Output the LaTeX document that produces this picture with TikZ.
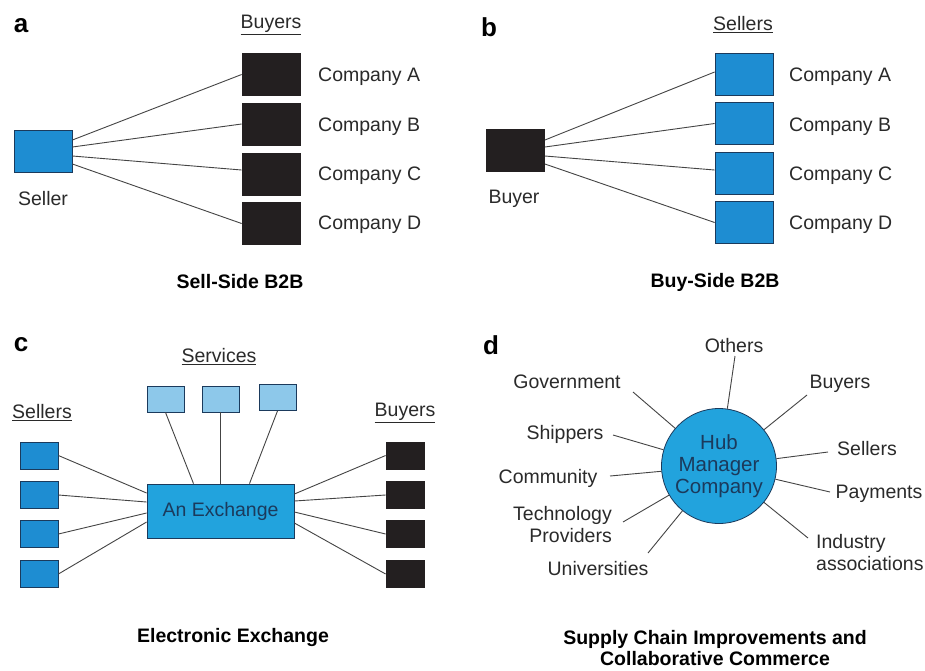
\documentclass[tikz,border=0pt]{standalone}
\usepackage{fontspec}
\setmainfont{Liberation Sans}
\definecolor{txt}{HTML}{2A2A2A}
\definecolor{blueA}{HTML}{1E8DD2}
\definecolor{blueL}{HTML}{8DC8EA}
\definecolor{blueX}{HTML}{22A3DD}
\definecolor{navy}{HTML}{1B3A5C}
\definecolor{blk}{HTML}{231F20}
\definecolor{edge}{HTML}{444444}
\begin{document}
\begin{tikzpicture}[x=1pt,y=-1pt,
  every node/.style={font=\fontsize{19.5}{22}\selectfont, text=txt, inner sep=0pt},
  lbl/.style={font=\fontsize{26}{28}\selectfont\bfseries, text=black},
  ttl/.style={font=\fontsize{19.5}{22}\selectfont\bfseries, text=black, align=center},
  bigbox/.style={draw=navy, line width=0.8pt, minimum width=58pt, minimum height=42pt},
  blackbig/.style={bigbox, fill=blk, draw=blk},
  bluebig/.style={bigbox, fill=blueA},
  smallbox/.style={draw=navy, line width=0.8pt, minimum width=38pt, minimum height=27pt},
  blacksmall/.style={smallbox, fill=blk, draw=blk},
  bluesmall/.style={smallbox, fill=blueA},
  servbox/.style={draw=navy, line width=0.8pt, minimum width=37pt, minimum height=26pt, fill=blueL},
  link/.style={draw=edge, line width=0.9pt}
]
\useasboundingbox (0,0) rectangle (925,670);
\fill[white] (0,0) rectangle (925,670);

% ---------------- Panel a ----------------
\node[lbl] (la) at (21,26) {a};
\node (ha) at (271,25) {\underline{Buyers}};
\node[bluebig] (sel) at (43,151) {};
\node (selt) at (43,199) {Seller};
\node[blackbig] (aA) at (271,74.5) {};
\node[blackbig] (aB) at (271,124) {};
\node[blackbig] (aC) at (271,174) {};
\node[blackbig] (aD) at (271,223.5) {};
\node[anchor=west] (tA) at (318,77) {Company A};
\node[anchor=west] (tB) at (318,127) {Company B};
\node[anchor=west] (tC) at (318,176) {Company C};
\node[anchor=west] (tD) at (318,225) {Company D};
\draw[link] ([yshift=11]sel.east) -- (aA.west);
\draw[link] ([yshift=4]sel.east) -- (aB.west);
\draw[link] ([yshift=-5]sel.east) -- ([yshift=4]aC.west);
\draw[link] ([yshift=-13]sel.east) -- (aD.west);
\node[ttl] (ta) at (240,282) {Sell-Side B2B};

% ---------------- Panel b ----------------
\node[lbl] (lb) at (489,27) {b};
\node (hb) at (743,25) {\underline{Sellers}};
\node[blackbig] (buy) at (515.5,150) {};
\node (buyt) at (514,199) {Buyer};
\node[bluebig] (bA) at (744,74) {};
\node[bluebig] (bB) at (744,123.5) {};
\node[bluebig] (bC) at (744,173) {};
\node[bluebig] (bD) at (744,222.5) {};
\node[anchor=west] (uA) at (789,77) {Company A};
\node[anchor=west] (uB) at (789,127) {Company B};
\node[anchor=west] (uC) at (789,176) {Company C};
\node[anchor=west] (uD) at (789,225) {Company D};
\draw[link] ([yshift=10]buy.east) -- ([yshift=2]bA.west);
\draw[link] ([yshift=3]buy.east) -- (bB.west);
\draw[link] ([yshift=-6]buy.east) -- ([yshift=3]bC.west);
\draw[link] ([yshift=-14]buy.east) -- (bD.west);
\node[ttl] (tb) at (715,282) {Buy-Side B2B};

% ---------------- Panel c ----------------
\node[lbl] (lc) at (21,345) {c};
\node (hs) at (219,357) {\underline{Services}};
\node (hsel) at (42,413) {\underline{Sellers}};
\node (hbuy) at (405,413) {\underline{Buyers}};
\node[servbox] (s1) at (165.5,399) {};
\node[servbox] (s2) at (220.5,399) {};
\node[servbox] (s3) at (277.5,397.5) {};
\node[draw=navy, line width=0.8pt, fill=blueX, minimum width=147pt, minimum height=54pt,
      text=navy] (ex) at (220.5,511) {An Exchange};
\node[bluesmall] (c1) at (39,455.5) {};
\node[bluesmall] (c2) at (39,495) {};
\node[bluesmall] (c3) at (39,534) {};
\node[bluesmall] (c4) at (39,574) {};
\node[blacksmall] (d1) at (405,455.5) {};
\node[blacksmall] (d2) at (405,495) {};
\node[blacksmall] (d3) at (405,534) {};
\node[blacksmall] (d4) at (405,574) {};
\draw[link] (s1.south) -- ([xshift=-27]ex.north);
\draw[link] (s2.south) -- (ex.north);
\draw[link] (s3.south) -- ([xshift=29]ex.north);
\draw[link] (c1.east) -- ([yshift=18]ex.west);
\draw[link] (c2.east) -- ([yshift=9]ex.west);
\draw[link] (c3.east) -- ([yshift=-2]ex.west);
\draw[link] (c4.east) -- ([yshift=-11]ex.west);
\draw[link] (d1.west) -- ([yshift=17]ex.east);
\draw[link] (d2.west) -- ([yshift=10]ex.east);
\draw[link] (d3.west) -- ([yshift=-1]ex.east);
\draw[link] (d4.west) -- ([yshift=-12]ex.east);
\node[ttl] (tc) at (233,637) {Electronic Exchange};

% ---------------- Panel d ----------------
\node[lbl] (ld) at (491,345) {d};
\node[circle, draw=navy, line width=0.8pt, fill=blueX, minimum size=115pt,
      text=navy, align=center, font=\fontsize{20.5}{22}\selectfont] (hub) at (719,466) {Hub\\Manager\\Company};
\node (nOth) at (734,346) {Others};
\node (nBuy) at (840,384) {Buyers};
\node (nSel) at (867,449) {Sellers};
\node (nPay) at (879,494) {Payments};
\node[anchor=west, align=left] (nInd) at (816,553) {Industry\\associations};
\node (nUni) at (598,569) {Universities};
\node[anchor=east, align=right] (nTec) at (612,525) {Technology\\Providers};
\node (nCom) at (548,478) {Community};
\node (nShi) at (565,434) {Shippers};
\node (nGov) at (567,382) {Government};
\coordinate (pOth) at (735,356);
\coordinate (pBuy) at (807,395);
\coordinate (pSel) at (828,452);
\coordinate (pPay) at (830,492);
\coordinate (pInd) at (808,538);
\coordinate (pUni) at (648,553);
\coordinate (pTec) at (623,522);
\coordinate (pCom) at (610,476);
\coordinate (pShi) at (613,435);
\coordinate (pGov) at (633,392);
\foreach \p in {Oth,Buy,Sel,Pay,Ind,Uni,Tec,Com,Shi,Gov}
  \draw[link] (p\p) -- (hub);
\node[ttl] (td) at (715,648) {Supply Chain Improvements and\\[-1pt]Collaborative Commerce};
\end{tikzpicture}
\end{document}
